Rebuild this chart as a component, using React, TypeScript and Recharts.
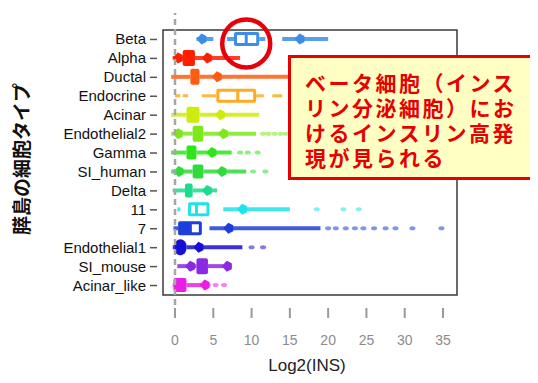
import { ComposedChart, Bar, XAxis, YAxis, ReferenceLine, ReferenceArea, ReferenceDot } from 'recharts';

// cell types, top to bottom
const cellTypes = ['Beta', 'Alpha', 'Ductal', 'Endocrine', 'Acinar', 'Endothelial2', 'Gamma', 'SI_human', 'Delta', '11', '7', 'Endothelial1', 'SI_mouse', 'Acinar_like'];

// box stats, Log2(INS)
const q1 = [7.7, 1.0, 2.0, 5.4, 1.5, 2.3, 1.5, 2.3, 1.3, 1.7, 0.4, -0.1, 2.8, -0.2];
const medians = [9.3, 1.8, 2.6, 8.2, 2.3, 3.0, 2.1, 3.0, 1.8, 2.8, 2.0, 0.6, 3.5, 0.7];
const q3 = [11.0, 2.6, 3.2, 10.6, 3.2, 3.7, 2.8, 3.7, 2.3, 4.5, 3.5, 1.5, 4.3, 1.5];

// jittered cells drawn as bands [from, to]
const bands = [
  [[2.8, 5.0], [6.8, 7.7], [11.0, 11.8], [14.0, 20.0]],
  [[-0.3, 1.0], [2.6, 8.5]],
  [[-0.5, 2.0], [3.2, 20.5]],
  [[0.0, 0.7], [1.0, 1.7], [3.5, 5.4], [10.6, 11.6], [12.7, 14.0]],
  [[-0.5, 1.5], [3.2, 11.0]],
  [[-0.5, 2.3], [3.7, 10.6]],
  [[-0.5, 1.5], [2.8, 7.4]],
  [[-0.5, 2.3], [3.7, 9.3]],
  [[-0.3, 1.3], [2.3, 5.5]],
  [[0.3, 0.7], [6.3, 15.0]],
  [[-0.2, 0.4], [4.5, 19.0]],
  [[-0.3, -0.1], [1.5, 8.8]],
  [[0.3, 2.8], [4.3, 7.4]],
  [[-0.3, -0.2], [1.5, 3.5]],
];

// density peaks along each band
const peaks = [[2.8, 15.6], [-0.3, 3.5], [4.8], [], [5.2], [-0.3, 5.6], [4.1], [-0.2, 5.4], [3.5], [8.1], [6.3], [2.4], [1.3, 6.1], [3.2]];

// sparse outlying cells
const outliers = [
  [],
  [],
  [],
  [],
  [],
  [11.5, 12.2, 13.0, 13.8, 14.5],
  [8.5, 9.5, 10.8],
  [10.2, 11.8],
  [],
  [18.5, 22.0, 24.0],
  [20.0, 21.0, 22.3, 23.5, 24.6, 26.0, 27.5, 28.8, 31.0, 34.8],
  [10.0, 11.5],
  [],
  [4.3, 5.3, 6.4],
];

const xTicks = [0, 5, 10, 15, 20, 25, 30, 35];

const colors = ['#3b8de8', '#ff1e00', '#ff5c0f', '#ffab1f', '#cdeb0c', '#7ee81a', '#2de61a', '#2fda3a', '#1bdc8c', '#1ee3ea', '#1d3ddc', '#170fd4', '#8b2ae2', '#ea1de6'];
const hollowBox: Record<string, 'hollow' | 'half'> = { Beta: 'hollow', Endocrine: 'hollow', '11': 'hollow', '7': 'half' };
const tallBox = ['Alpha', 'Ductal', 'Acinar', 'Endothelial2', 'Endothelial1', 'SI_mouse'];

const rows = cellTypes.map((name, i) => {
  const all = [q1[i], q3[i], ...bands[i].flat(), ...peaks[i], ...outliers[i]];
  return { name, i, extent: [Math.min(...all), Math.max(...all)] };
});

function RowShape(props: any) {
  const { x, y, width, height, payload } = props;
  const i = payload.i;
  const [lo, hi] = payload.extent;
  const px = (v: number) => x + ((v - lo) / (hi - lo)) * width;
  const cy = y + height / 2;
  const c = colors[i];
  const style = hollowBox[cellTypes[i]];
  const bh = tallBox.includes(cellTypes[i]) ? 16 : 14;
  const b1 = px(q1[i]);
  const b2 = px(q3[i]);
  const m = px(medians[i]);
  const thin = cellTypes[i] === 'Endocrine';
  return (
    <g>
      {bands[i].map(([a, b], k) => (
        <line key={'b' + k} x1={px(a)} x2={px(b)} y1={cy} y2={cy} stroke={c} strokeWidth={thin ? 3 : 4} strokeOpacity={0.85} />
      ))}
      {peaks[i].map((v, k) => {
        const p = px(v);
        return (
          <polygon key={'p' + k} points={`${p},${cy} ${p + 5},${cy - 5.5} ${p + 10},${cy - 3} ${p + 10},${cy + 3} ${p + 5},${cy + 5.5}`} fill={c} />
        );
      })}
      {outliers[i].map((v, k) => (
        <ellipse key={'o' + k} cx={px(v)} cy={cy} rx={3} ry={2} fill={c} fillOpacity={0.55} />
      ))}
      <rect x={b1} y={cy - bh / 2} width={b2 - b1} height={bh} rx={cellTypes[i] === 'Endothelial1' ? 7 : 2} fill={c} />
      {style === 'hollow' && (
        <>
          <rect x={b1 + 3} y={cy - bh / 2 + 3} width={Math.max(0, m - b1 - 4.5)} height={bh - 6} fill="#fff" />
          <rect x={m + 1.5} y={cy - bh / 2 + 3} width={Math.max(0, b2 - m - 4.5)} height={bh - 6} fill="#fff" />
        </>
      )}
      {style === 'half' && <rect x={m + 1.5} y={cy - bh / 2 + 3} width={Math.max(0, b2 - m - 4.5)} height={bh - 6} fill="#fff" />}
    </g>
  );
}

function XTick({ x, y, payload }: any) {
  return (
    <g>
      <line x1={x} x2={x} y1={y + 3} y2={y + 13} stroke="#9a9a9a" strokeWidth={2} />
      <text x={x} y={y + 40} textAnchor="middle" fontSize={14} fill="#8c8c8c">
        {payload.value}
      </text>
    </g>
  );
}

function YTick({ x, y, payload }: any) {
  return (
    <g>
      <line x1={x - 13} x2={x - 6} y1={y} y2={y} stroke="#555" strokeWidth={1.5} />
      <text x={x - 17} y={y + 5} textAnchor="end" fontSize={15} fill="#111">
        {payload.value}
      </text>
    </g>
  );
}

export default function App() {
  return (
    <div style={{ position: 'relative', width: 530, height: 367, fontFamily: '"Liberation Sans", Arial, sans-serif' }}>
      <ComposedChart width={530} height={367} data={rows} layout="vertical" margin={{ top: 5, right: 81, bottom: 0, left: 0 }} barCategoryGap={0}>
        <XAxis
          type="number"
          domain={[-1.57, 36.83]}
          ticks={xTicks}
          allowDataOverflow
          axisLine={false}
          tickLine={false}
          tickSize={0}
          tickMargin={0}
          height={70}
          tick={<XTick />}
          label={({ viewBox }: any) => (
            <text x={viewBox.x + viewBox.width / 2 - 3} y={viewBox.y + 66} textAnchor="middle" fontSize={17} fill="#222">
              Log2(INS)
            </text>
          )}
        />
        <YAxis
          type="category"
          dataKey="name"
          width={155}
          axisLine={false}
          tickLine={false}
          tickSize={0}
          tickMargin={0}
          padding={{ top: 17, bottom: 10 }}
          interval={0}
          tick={<YTick />}
          label={({ viewBox }: any) => (
            <text
              x={12}
              y={viewBox.y + viewBox.height / 2}
              transform={`rotate(-90 12 ${viewBox.y + viewBox.height / 2})`}
              textAnchor="middle"
              dominantBaseline="central"
              fontSize={19}
              fontWeight="bold"
              fill="#111"
              fontFamily='"Noto Sans CJK JP", sans-serif'
            >
              膵島の細胞タイプ
            </text>
          )}
        />
        <ReferenceLine x={0} stroke="#a6a6a6" strokeWidth={2.5} strokeDasharray="6 4" />
        <Bar dataKey="extent" barSize={18} shape={<RowShape />} isAnimationActive={false} />
        <ReferenceArea x1={-1.57} x2={36.83} fill="none" stroke="#3a3a3a" strokeWidth={1.5} ifOverflow="visible" />
        <ReferenceDot
          x={9.3}
          y="Beta"
          ifOverflow="visible"
          shape={(p: any) => <ellipse cx={p.cx} cy={p.cy + 4} rx={24} ry={24} fill="none" stroke="#e6000a" strokeWidth={4.5} />}
        />
      </ComposedChart>
      <div
        lang="ja"
        style={{
          position: 'absolute',
          left: 280,
          top: 47,
          width: 249,
          height: 125,
          border: '3px solid #e60000',
          background: '#ffffc4',
          color: '#e60000',
          fontFamily: '"DejaVu Sans", "Noto Sans CJK JP", sans-serif',
          fontWeight: 'bold',
          fontSize: 21,
          lineHeight: '25px',
          letterSpacing: 2.5,
          padding: '14px 0 0 14px',
          boxSizing: 'border-box',
          whiteSpace: 'nowrap',
        }}
      >
        ベータ細胞（インス
        <br />
        リン分泌細胞）にお
        <br />
        けるインスリン高発
        <br />
        現が見られる
      </div>
    </div>
  );
}
